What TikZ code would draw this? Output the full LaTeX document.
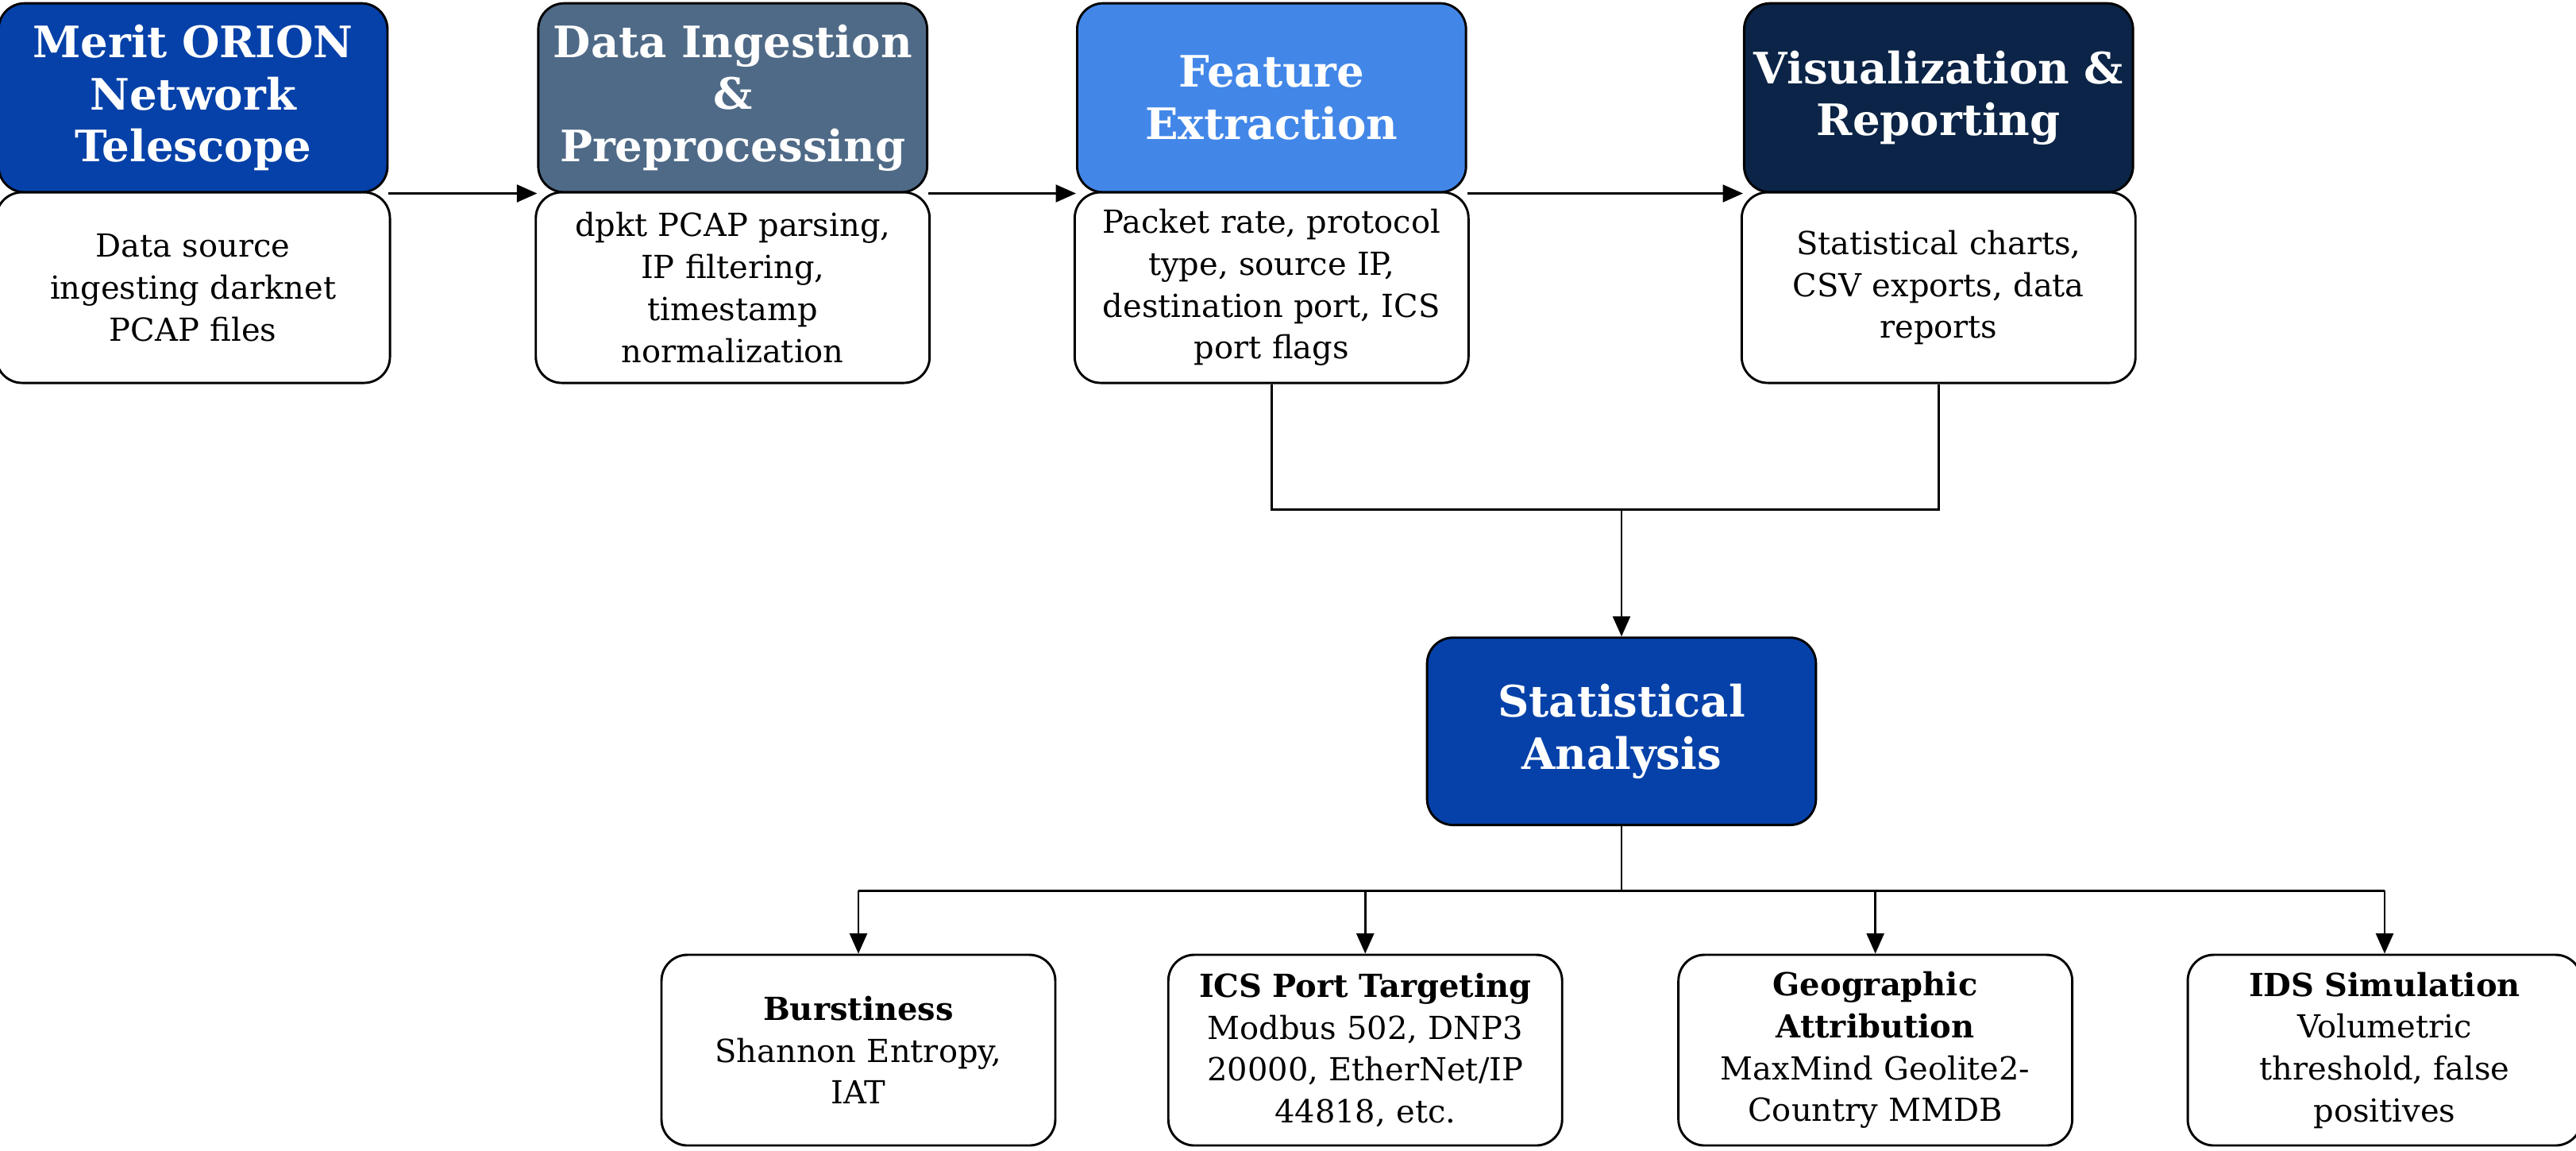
\documentclass[tikz,border=0pt]{standalone}
\usepackage{fontspec}
\setmainfont{DejaVu Serif}
\usetikzlibrary{arrows.meta}
\definecolor{orionblue}{HTML}{0541A8}
\definecolor{ingestgray}{HTML}{4F6A87}
\definecolor{featblue}{HTML}{4287E8}
\definecolor{viznavy}{HTML}{0B2447}
\newlength{\pxu}
\setlength{\pxu}{0.02cm}
\tikzset{
  head/.style={draw=black, thick, rounded corners=9pt, minimum width=231\pxu, minimum height=115\pxu,
    text=white, font=\fontsize{15}{18}\selectfont\bfseries, align=center, text width=225\pxu},
  body/.style={draw=black, thick, fill=white, rounded corners=9pt, minimum width=231\pxu, minimum height=116\pxu,
    font=\fontsize{11}{14.5}\selectfont, align=center, text width=228\pxu},
  flow/.style={thick, -{Triangle[length=7pt,width=6pt]}},
  link/.style={thick}
}
\begin{document}
\begin{tikzpicture}[x=0.02cm,y=-0.02cm]
\useasboundingbox (0,0) rectangle (1568,700);
% top row
\node[head, fill=orionblue] (orion) at (117.5,59.5) {Merit ORION\\Network\\Telescope};
\node[body] (orionb) at (117.5,175) {Data source\\ingesting darknet\\PCAP files};
\node[head, fill=ingestgray] (ingest) at (446,59.5) {Data Ingestion\\\&\\Preprocessing};
\node[body] (ingestb) at (446,175) {dpkt PCAP parsing,\\IP filtering,\\timestamp\\normalization};
\node[head, fill=featblue] (feat) at (774,59.5) {Feature\\Extraction};
\node[body] (featb) at (774,175) {Packet rate, protocol\\type, source IP,\\destination port, ICS\\port flags};
\node[head, fill=viznavy] (viz) at (1180,59.5) {Visualization \&\\Reporting};
\node[body] (vizb) at (1180,175) {Statistical charts,\\CSV exports, data\\reports};
\draw[flow] (orion.south east) -- (ingest.south west);
\draw[flow] (ingest.south east) -- (feat.south west);
\draw[flow] (feat.south east) -- (viz.south west);
% merge into analysis
\node[head, fill=orionblue, minimum height=114\pxu] (stats) at (987,445) {Statistical\\Analysis};
\coordinate (merge) at (987,310);
\draw[link] (featb.south) |- (merge) -| (vizb.south);
\draw[flow] (merge) -- (stats.north);
% bottom row
\node[body] (burst) at (522.5,639) {\textbf{Burstiness}\\Shannon Entropy,\\IAT};
\node[body] (ics) at (831,639) {\textbf{ICS Port Targeting}\\Modbus 502, DNP3\\20000, EtherNet/IP\\44818, etc.};
\node[body] (geo) at (1141.5,639) {\textbf{Geographic}\\\textbf{Attribution}\\MaxMind Geolite2-\\Country MMDB};
\node[body] (ids) at (1451.5,639) {\textbf{IDS Simulation}\\Volumetric\\threshold, false\\positives};
\coordinate (split) at (987,542);
\draw[link] (stats.south) -- (split);
\draw[link] (burst.north |- split) -- (ids.north |- split);
\foreach \t in {burst,ics,geo,ids}
  \draw[flow] (\t.north |- split) -- (\t.north);
\end{tikzpicture}
\end{document}
